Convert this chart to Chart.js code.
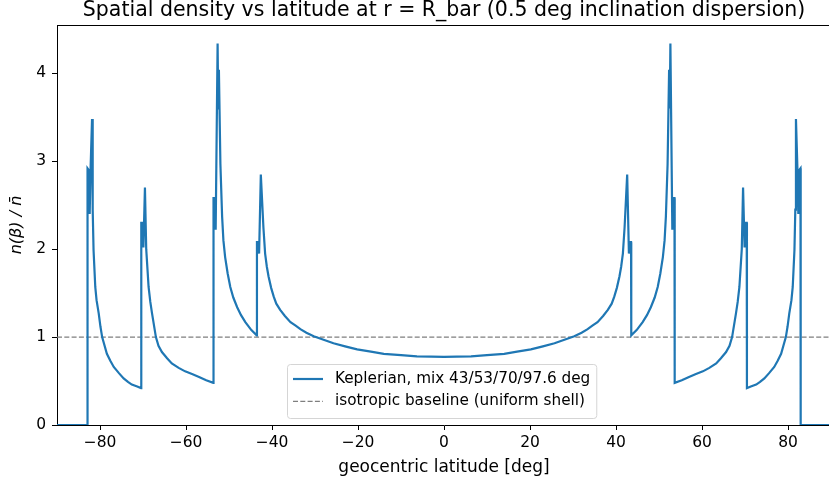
<!DOCTYPE html>
<html>
<head>
<meta charset="utf-8">
<script src="https://cdn.jsdelivr.net/npm/chart.js@4"></script>
<style>
  html, body { margin: 0; padding: 0; background: #fff; overflow: hidden; }
</style>
</head>
<body>
<canvas id="densityChart" width="832" height="483"></canvas>
<script>
// values
const latitude = [
  -90, -82.95, -82.9, -82.6, -82.4, -82.2, -81.85, -81.7, -81.5, -81.1, -80.8, -80.3, -79.9, -79.5, -78.4, -77.6, -76.8, -75.6, -74.5, -73.5, -72.6, -71.5, -70.45,
  -70.4, -70.1, -69.9, -69.55, -69.25, -68.7, -68.3, -67.9, -67.0, -66.4, -65.6, -64.4, -63.3, -61.7, -60.2, -58.6, -57.1, -55.3, -53.65,
  -53.6, -53.3, -53.1, -52.65, -52.5, -52.35, -52.0, -51.6, -51.3, -50.9, -50.3, -49.7, -49.0, -48.1, -47.2, -46.2, -44.8, -43.55,
  -43.5, -43.2, -43.0, -42.6, -42.0, -41.6, -41.2, -40.8, -40.2, -39.6, -39.0, -38.1, -37.0, -35.7, -34.5, -33.4, -32.0, -30.3,
  -28, -25.7, -23, -20.2, -17, -14, -10, -6.3, -3, 0,
  3, 6.3, 10, 14, 17, 20.2, 23, 25.7, 28,
  30.3, 32.0, 33.4, 34.5, 35.7, 37.0, 38.1, 39.0, 39.6, 40.2, 40.8, 41.2, 41.6, 42.0, 42.6, 43.0, 43.2, 43.5,
  43.55, 44.8, 46.2, 47.2, 48.1, 49.0, 49.7, 50.3, 50.9, 51.3, 51.6, 52.0, 52.35, 52.5, 52.65, 53.1, 53.3, 53.6,
  53.65, 55.3, 57.1, 58.6, 60.2, 61.7, 63.3, 64.4, 65.6, 66.4, 67.0, 67.9, 68.3, 68.7, 69.25, 69.55, 69.9, 70.1, 70.4,
  70.45, 71.5, 72.6, 73.5, 74.5, 75.6, 76.8, 77.6, 78.4, 79.5, 79.9, 80.3, 80.8, 81.1, 81.5, 81.7, 81.85, 82.2, 82.4, 82.6, 82.9, 82.95, 90
];
const density = [
  0, 0, 2.92, 2.90, 2.40, 2.90, 3.48, 2.45, 1.99, 1.57, 1.42, 1.27, 1.12, 1.00, 0.81, 0.73, 0.66, 0.59, 0.53, 0.49, 0.46, 0.44, 0.42,
  2.30, 2.30, 2.02, 2.70, 2.00, 1.57, 1.40, 1.27, 1.00, 0.90, 0.83, 0.76, 0.70, 0.65, 0.61, 0.58, 0.55, 0.51, 0.48,
  2.58, 2.58, 2.22, 4.34, 3.60, 4.04, 2.97, 2.37, 2.10, 1.91, 1.72, 1.57, 1.45, 1.34, 1.25, 1.17, 1.08, 1.02,
  2.08, 2.08, 1.95, 2.85, 2.25, 1.95, 1.80, 1.69, 1.56, 1.46, 1.38, 1.31, 1.24, 1.17, 1.13, 1.09, 1.05, 1.01,
  0.97, 0.93, 0.895, 0.86, 0.835, 0.81, 0.795, 0.78, 0.778, 0.775,
  0.778, 0.78, 0.795, 0.81, 0.835, 0.86, 0.895, 0.93, 0.97,
  1.01, 1.05, 1.09, 1.13, 1.17, 1.24, 1.31, 1.38, 1.46, 1.56, 1.69, 1.80, 1.95, 2.25, 2.85, 1.95, 2.08, 2.08,
  1.02, 1.08, 1.17, 1.25, 1.34, 1.45, 1.57, 1.72, 1.91, 2.10, 2.37, 2.97, 4.04, 3.60, 4.34, 2.22, 2.58, 2.58,
  0.48, 0.51, 0.55, 0.58, 0.61, 0.65, 0.70, 0.76, 0.83, 0.90, 1.00, 1.27, 1.40, 1.57, 2.00, 2.70, 2.02, 2.30, 2.30,
  0.42, 0.44, 0.46, 0.49, 0.53, 0.59, 0.66, 0.73, 0.81, 1.00, 1.12, 1.27, 1.42, 1.57, 1.99, 2.45, 3.48, 2.90, 2.40, 2.90, 2.92, 0, 0
];
const baselineLat = [-90, 90];
const baselineVal = [1, 1];
const xTicks = [-80, -60, -40, -20, 0, 20, 40, 60, 80];
const yTicks = [0, 1, 2, 3, 4];

const FONT = "'DejaVu Sans', sans-serif";

// matplotlib-style legend box, placed lower center inside the axes
const boxLegend = {
  id: 'boxLegend',
  afterDraw(chart) {
    const ctx = chart.ctx, area = chart.chartArea;
    const fs = 15.25;
    ctx.save();
    ctx.font = fs + "px " + FONT;
    const sets = chart.data.datasets;
    const textW = Math.max(...sets.map(d => ctx.measureText(d.label).width));
    const w = 6 + 30 + 12 + textW + 6;
    const h = 54;
    const x0 = Math.round((area.left + area.right) / 2 - w / 2) - 2;
    const y0 = Math.round(area.bottom - 7.5 - h);
    ctx.beginPath();
    ctx.roundRect(x0 + 0.5, y0 + 0.5, w, h, 3);
    ctx.fillStyle = 'rgba(255,255,255,0.8)';
    ctx.fill();
    ctx.strokeStyle = '#d5d5d5';
    ctx.lineWidth = 1;
    ctx.stroke();
    sets.forEach((d, i) => {
      const cy = y0 + 15 + i * 22.4;
      ctx.beginPath();
      ctx.setLineDash(d.borderDash || []);
      ctx.strokeStyle = d.borderColor;
      ctx.lineWidth = d.borderWidth;
      ctx.moveTo(x0 + 6, cy);
      ctx.lineTo(x0 + 36, cy);
      ctx.stroke();
      ctx.setLineDash([]);
      ctx.fillStyle = '#000';
      ctx.textBaseline = 'middle';
      ctx.textAlign = 'left';
      ctx.fillText(d.label, x0 + 48, cy);
    });
    // top spine
    ctx.beginPath();
    ctx.strokeStyle = '#000';
    ctx.lineWidth = 1;
    ctx.moveTo(area.left, area.top + 0.5);
    ctx.lineTo(area.right, area.top + 0.5);
    ctx.stroke();
    ctx.restore();
  }
};

const ctx = document.getElementById('densityChart').getContext('2d');
new Chart(ctx, {
  type: 'line',
  data: {
    datasets: [{
      label: 'Keplerian, mix 43/53/70/97.6 deg',
      data: latitude.map((x, i) => ({ x: x, y: density[i] })),
      borderColor: '#1f77b4',
      borderWidth: 2.2,
      pointRadius: 0,
      tension: 0,
      fill: false
    }, {
      label: 'isotropic baseline (uniform shell)',
      data: baselineLat.map((x, i) => ({ x: x, y: baselineVal[i] })),
      borderColor: '#7f7f7f',
      borderWidth: 1.4,
      borderDash: [5, 2.3],
      pointRadius: 0,
      fill: false
    }]
  },
  options: {
    responsive: false,
    animation: false,
    devicePixelRatio: 1,
    layout: { padding: { left: 0, right: 1, top: 0, bottom: 0 } },
    scales: {
      x: {
        type: 'linear',
        min: -90,
        max: 90,
        afterBuildTicks: s => { s.ticks = xTicks.map(v => ({ value: v })); },
        afterFit: s => { s.height = 58; },
        ticks: {
          color: '#000',
          font: { family: FONT, size: 15.5 },
          padding: 4,
          maxRotation: 0,
          callback: v => String(v).replace('-', '\u2212')
        },
        grid: { drawOnChartArea: false, drawTicks: true, tickLength: 5, tickColor: '#000' },
        border: { color: '#000', width: 1 },
        title: {
          display: true,
          text: 'geocentric latitude [deg]',
          color: '#000',
          font: { family: FONT, size: 17 },
          padding: { top: 0, bottom: 5.5 }
        }
      },
      y: {
        min: 0,
        max: 4.55,
        afterBuildTicks: s => { s.ticks = yTicks.map(v => ({ value: v })); },
        afterFit: s => { s.width = 57; },
        ticks: {
          color: '#000',
          font: { family: FONT, size: 15.5 },
          padding: 6
        },
        grid: { drawOnChartArea: false, drawTicks: true, tickLength: 5, tickColor: '#000' },
        border: { color: '#000', width: 1 },
        title: {
          display: true,
          text: 'n(\u03b2) / n\u0304',
          color: '#000',
          font: { family: FONT, size: 16, style: 'italic' },
          padding: { top: 7, bottom: 0 }
        }
      }
    },
    plugins: {
      legend: { display: false },
      tooltip: { enabled: false },
      title: {
        display: true,
        fullSize: false,
        text: 'Spatial density vs latitude at r = R_bar (0.5 deg inclination dispersion)',
        color: '#000',
        font: { family: FONT, size: 20.5, weight: 'normal', lineHeight: 1 },
        padding: { top: 0, bottom: 4.5 }
      }
    }
  },
  plugins: [boxLegend]
});
</script>
</body>
</html>
